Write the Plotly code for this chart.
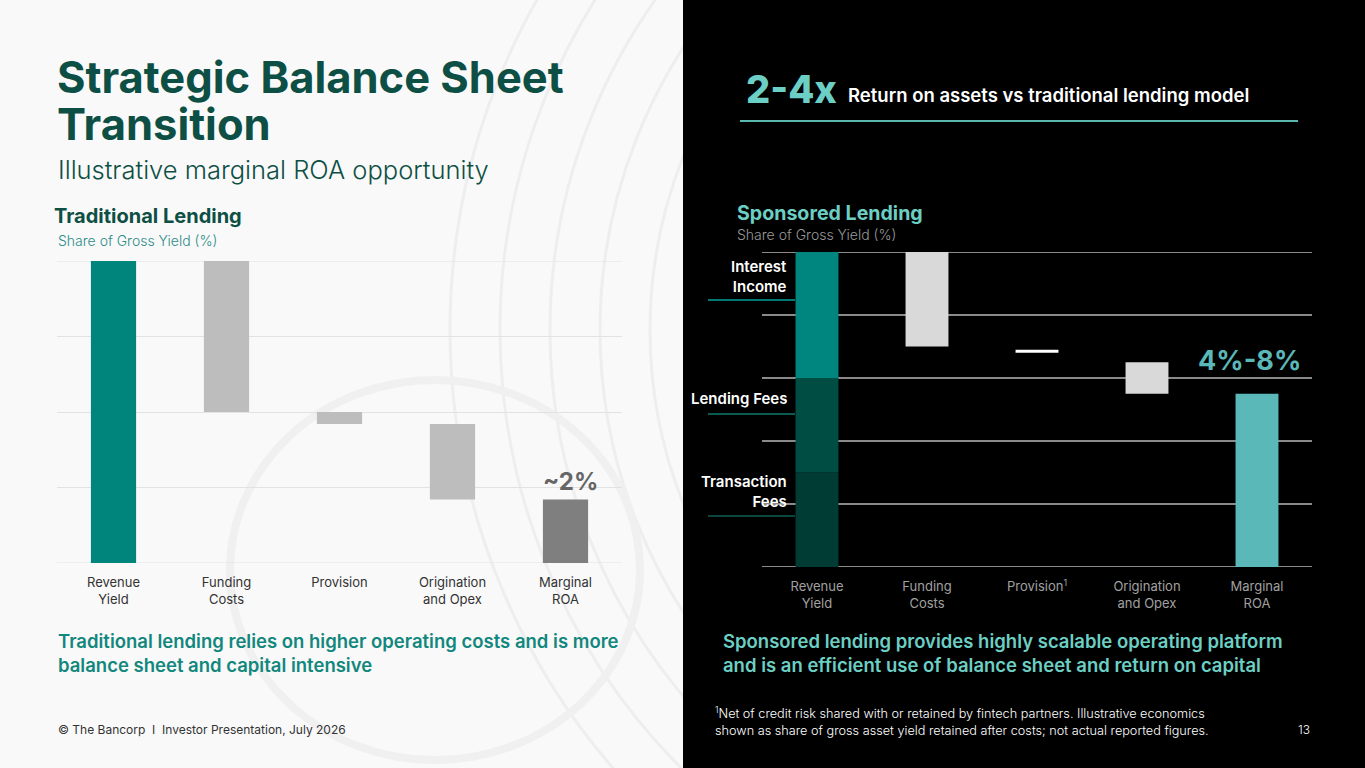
"""
Strategic balance sheet transition - traditional vs sponsored lending waterfall
"""
import plotly.graph_objects as go

# 数据
trad_categories = ["Revenue<br>Yield", "Funding<br>Costs", "Provision", "Origination<br>and Opex", "Marginal<br>ROA"]
trad_top = [100, 100, 50, 46, 21]
trad_bottom = [0, 50, 46, 21, 0]
trad_colors = ["#00857C", "#BDBDBD", "#BDBDBD", "#BDBDBD", "#7F7F7F"]

spon_categories = ["Revenue<br>Yield", "Funding<br>Costs", "Provision<sup>1</sup>", "Origination<br>and Opex", "Marginal<br>ROA"]
spon_top = [100, 100, 69, 65, 55]
spon_bottom = [0, 70, 68, 55, 0]
spon_colors = ["#00857F", "#D9D9D9", "#FFFFFF", "#D9D9D9", "#5AB8B8"]

revenue_parts = ["Transaction<br>Fees", "Lending Fees", "Interest<br>Income"]
revenue_values = [30, 30, 40]
revenue_colors = ["#003B34", "#004D44", "#00857F"]

W, H = 1365, 768


def px(x):
    return x / W


def py(y):
    return 1 - y / H


fig = go.Figure()

# 左图：传统贷款
fig.add_trace(go.Bar(
    x=trad_categories,
    y=[t - b for t, b in zip(trad_top, trad_bottom)],
    base=trad_bottom,
    marker=dict(color=trad_colors, line=dict(width=0)),
    width=0.4,
    xaxis="x", yaxis="y",
    hoverinfo="skip",
))

# 右图：赞助贷款 (收入柱分三段)
base = 0
for name, val, col in zip(revenue_parts, revenue_values, revenue_colors):
    fig.add_trace(go.Bar(
        x=[spon_categories[0]], y=[val], base=[base],
        marker=dict(color=col, line=dict(width=0)),
        width=0.39, xaxis="x2", yaxis="y2", hoverinfo="skip",
    ))
    base += val

fig.add_trace(go.Bar(
    x=spon_categories[1:],
    y=[t - b for t, b in zip(spon_top[1:], spon_bottom[1:])],
    base=spon_bottom[1:],
    marker=dict(color=spon_colors[1:], line=dict(width=0)),
    width=0.39,
    xaxis="x2", yaxis="y2",
    hoverinfo="skip",
))

FONT = "Inter, Roboto, sans-serif"

shapes = []
# 左侧背景的淡色弧线
for r in [470, 520, 570, 620, 670]:
    shapes.append(dict(type="circle", xref="paper", yref="paper",
                       x0=px(1120 - r), x1=px(1120 + r), y0=py(330 + r), y1=py(330 - r),
                       line=dict(color="#EEEEEE", width=3), layer="below"))
shapes.append(dict(type="circle", xref="paper", yref="paper",
                   x0=px(230), x1=px(640), y0=py(760), y1=py(380),
                   line=dict(color="#F0F0F0", width=8), layer="below"))
# 右半边黑色背景
shapes.append(dict(type="rect", xref="paper", yref="paper", x0=px(683), x1=1, y0=0, y1=1,
                   fillcolor="#000000", line=dict(width=0), layer="below"))
# 网格的上下边线 (plotly 不画边界处的网格线)
for v in [0, 100]:
    shapes.append(dict(type="line", xref="x domain", yref="y", x0=0, x1=1, y0=v, y1=v,
                       line=dict(color="#E2E2E2", width=1), layer="below"))
    shapes.append(dict(type="line", xref="x2 domain", yref="y2", x0=0, x1=1, y0=v, y1=v,
                       line=dict(color="#8A8A8A", width=2), layer="below"))
# 标题下划线
shapes.append(dict(type="line", xref="paper", yref="paper", x0=px(740), x1=px(1298), y0=py(121), y1=py(121),
                   line=dict(color="#5BB8B0", width=2)))
# 收入分段标签下划线
for yy, col in [(300, "#007A72"), (414, "#0B5A50"), (516, "#0A463E")]:
    shapes.append(dict(type="line", xref="paper", yref="paper", x0=px(708), x1=px(795), y0=py(yy), y1=py(yy),
                       line=dict(color=col, width=2)))

annotations = [
    dict(text="Strategic Balance Sheet", x=px(55), y=py(77), font=dict(size=43.5, color="#0D4F44", weight=700)),
    dict(text="Transition", x=px(55), y=py(124), font=dict(size=43.5, color="#0D4F44", weight=700)),
    dict(text="Illustrative marginal ROA opportunity", x=px(56), y=py(169), font=dict(size=25.5, color="#0D4F44", weight=300)),
    dict(text="Traditional Lending", x=px(52), y=py(216), font=dict(size=20, color="#0D4F44", weight=700)),
    dict(text="Share of Gross Yield (%)", x=px(56), y=py(240), font=dict(size=14, color="#2A8C86", weight=300)),
    dict(text="~2%", x=px(570), y=py(481), xanchor="center", font=dict(size=24, color="#666666", weight=700)),
    dict(text="Traditional lending relies on higher operating costs and is more<br>balance sheet and capital intensive",
         x=px(56), y=py(653), font=dict(size=18.5, color="#12877E", weight=600)),
    dict(text="© The Bancorp  I  Investor Presentation, July 2026", x=px(56), y=py(729), font=dict(size=12, color="#333333")),
    dict(text="2-4x", x=px(744), y=py(89), font=dict(size=38, color="#6CCFC6", weight=800)),
    dict(text="Return on assets vs traditional lending model", x=px(846), y=py(95), font=dict(size=18.5, color="#FFFFFF", weight=600)),
    dict(text="Sponsored Lending", x=px(735), y=py(213), font=dict(size=19.6, color="#6CCFC4", weight=700)),
    dict(text="Share of Gross Yield (%)", x=px(735), y=py(235), font=dict(size=14, color="#9A9A9A", weight=300)),
    dict(text="4%-8%", x=px(1249), y=py(361), xanchor="center", font=dict(size=27, color="#5AB8B8", weight=700)),
    dict(text="Sponsored lending provides highly scalable operating platform<br>and is an efficient use of balance sheet and return on capital",
         x=px(721), y=py(653), font=dict(size=18.5, color="#6CCFC4", weight=600)),
    dict(text="<sup>1</sup>Net of credit risk shared with or retained by fintech partners. Illustrative economics<br>shown as share of gross asset yield retained after costs; not actual reported figures.",
         x=px(713), y=py(721), font=dict(size=12.7, color="#FFFFFF", weight=300)),
    dict(text="13", x=px(1304), y=py(729), xanchor="center", font=dict(size=12, color="#FFFFFF", weight=300)),
]
# 收入分段标签
for name, yc in zip(revenue_parts, [491, 398, 276]):
    annotations.append(dict(text=name, x=px(789), y=py(yc), xanchor="right", align="right",
                            font=dict(size=15, color="#FFFFFF", weight=600)))

for a in annotations:
    a.setdefault("xref", "paper")
    a.setdefault("yref", "paper")
    a.setdefault("xanchor", "left")
    a.setdefault("yanchor", "middle")
    a.setdefault("align", "left")
    a.setdefault("showarrow", False)
    a["font"].setdefault("family", FONT)

fig.update_layout(
    width=W, height=H,
    margin=dict(l=0, r=0, t=0, b=0),
    paper_bgcolor="#F9F9F9",
    plot_bgcolor="rgba(0,0,0,0)",
    barmode="overlay",
    showlegend=False,
    font=dict(family=FONT),
    xaxis=dict(domain=[px(57), px(622)], type="category", showgrid=False, zeroline=False, showline=False,
               ticks="", tickfont=dict(size=13, color="#333333"), ticklabelstandoff=10, fixedrange=True),
    yaxis=dict(domain=[py(563), py(261)], range=[0, 100], dtick=25, showgrid=True, gridcolor="#E2E2E2",
               gridwidth=1, zeroline=False, showticklabels=False, fixedrange=True),
    xaxis2=dict(domain=[px(762), px(1312)], type="category", anchor="y2", showgrid=False, zeroline=False,
                showline=False, ticks="", tickfont=dict(size=13, color="#A0A0A0"), ticklabelstandoff=10,
                fixedrange=True),
    yaxis2=dict(domain=[py(567), py(252)], range=[0, 100], dtick=20, anchor="x2", showgrid=True,
                gridcolor="#8A8A8A", gridwidth=2, zeroline=False, showticklabels=False, fixedrange=True),
    shapes=shapes,
    annotations=annotations,
)

# 去掉页面默认边距和工具栏，让图铺满窗口
fig.write_html("out.html", config={"displayModeBar": False},
               post_script="document.body.style.margin='0';")
